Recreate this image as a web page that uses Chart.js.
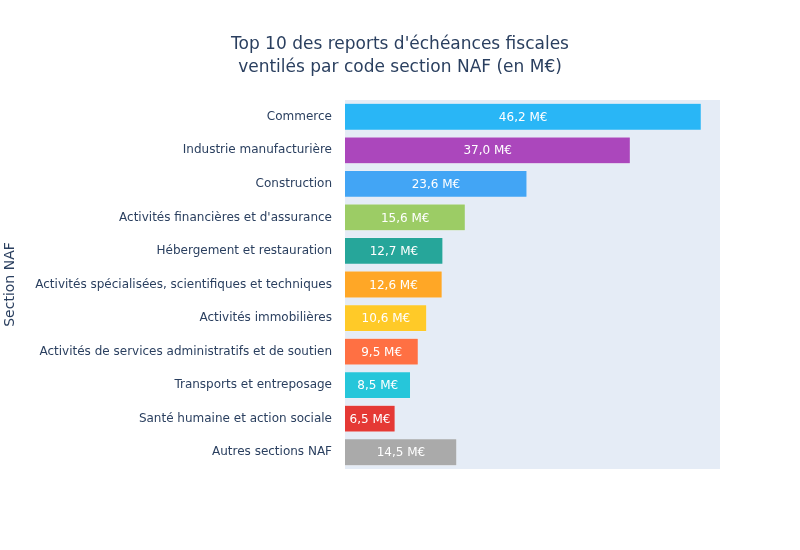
<!DOCTYPE html>
<html>
<head>
<meta charset="utf-8">
<script src="https://cdn.jsdelivr.net/npm/chart.js@4/dist/chart.umd.min.js"></script>
<style>
  html, body { margin: 0; padding: 0; background: #fff; }
  #wrap { width: 800px; height: 550px; }
</style>
</head>
<body>
<div id="wrap"><canvas id="chart" width="800" height="550"></canvas></div>
<script>
const sections = [
    'Commerce',
    'Industrie manufacturière',
    'Construction',
    "Activités financières et d'assurance",
    'Hébergement et restauration',
    'Activités spécialisées, scientifiques et techniques',
    'Activités immobilières',
    'Activités de services administratifs et de soutien',
    'Transports et entreposage',
    'Santé humaine et action sociale',
    'Autres sections NAF'
];
const montants = [46.2, 37.0, 23.6, 15.6, 12.7, 12.6, 10.6, 9.5, 8.5, 6.5, 14.5];
const couleurs = [
    '#29b6f6', '#ab47bc', '#42a5f5', '#9ccc65', '#26a69a', '#ffa726',
    '#ffca28', '#ff7043', '#26c6da', '#e53935', '#aaaaaa'
];
const titre = ["Top 10 des reports d'échéances fiscales", 'ventilés par code section NAF (en M€)'];

const FONT = '"DejaVu Sans", Verdana, sans-serif';
const TEXT_COLOR = '#2a3f5f';

// plot background like plotly
const plotBg = {
    id: 'plotBg',
    beforeDraw(chart) {
        const a = chart.chartArea;
        const ctx = chart.ctx;
        ctx.save();
        ctx.fillStyle = '#e5ecf6';
        ctx.fillRect(a.left, a.top, a.right - a.left, a.bottom - a.top);
        ctx.restore();
    }
};

// title centred on the whole canvas, not on the plot box
const pageTitle = {
    id: 'pageTitle',
    afterDraw(chart) {
        const ctx = chart.ctx;
        ctx.save();
        ctx.font = '17px ' + FONT;
        ctx.fillStyle = TEXT_COLOR;
        ctx.textAlign = 'center';
        ctx.textBaseline = 'middle';
        titre.forEach((line, i) => ctx.fillText(line, chart.width / 2, 45 + i * 22.5));
        ctx.restore();
    }
};

// value labels centered inside the bars
const barLabels = {
    id: 'barLabels',
    afterDatasetsDraw(chart) {
        const ctx = chart.ctx;
        const meta = chart.getDatasetMeta(0);
        ctx.save();
        ctx.font = '12px ' + FONT;
        ctx.fillStyle = '#ffffff';
        ctx.textAlign = 'center';
        ctx.textBaseline = 'middle';
        meta.data.forEach((bar, i) => {
            const txt = montants[i].toFixed(1).replace('.', ',') + ' M€';
            ctx.fillText(txt, (bar.base + bar.x) / 2, bar.y + 1);
        });
        ctx.restore();
    }
};

new Chart(document.getElementById('chart'), {
    type: 'bar',
    data: {
        labels: sections,
        datasets: [{
            data: montants,
            backgroundColor: couleurs,
            borderColor: 'rgba(255,255,255,0.5)',
            borderWidth: 0.5,
            barPercentage: 0.8,
            categoryPercentage: 1.0
        }]
    },
    options: {
        indexAxis: 'y',
        responsive: false,
        animation: false,
        layout: { padding: { left: 0, right: 80, top: 100, bottom: 81 } },
        plugins: {
            legend: { display: false },
            tooltip: { enabled: false },
            title: { display: false }
        },
        scales: {
            x: {
                display: false,
                min: 0,
                max: 48.63
            },
            y: {
                grid: { display: false, drawTicks: false },
                border: { display: false },
                ticks: {
                    color: TEXT_COLOR,
                    font: { family: FONT, size: 12 },
                    padding: 13
                },
                title: {
                    display: true,
                    text: 'Section NAF',
                    color: TEXT_COLOR,
                    font: { family: FONT, size: 14 },
                    padding: { top: 2, bottom: 0 }
                },
                afterFit(scale) { scale.width = 345; }
            }
        }
    },
    plugins: [plotBg, pageTitle, barLabels]
});
</script>
</body>
</html>
